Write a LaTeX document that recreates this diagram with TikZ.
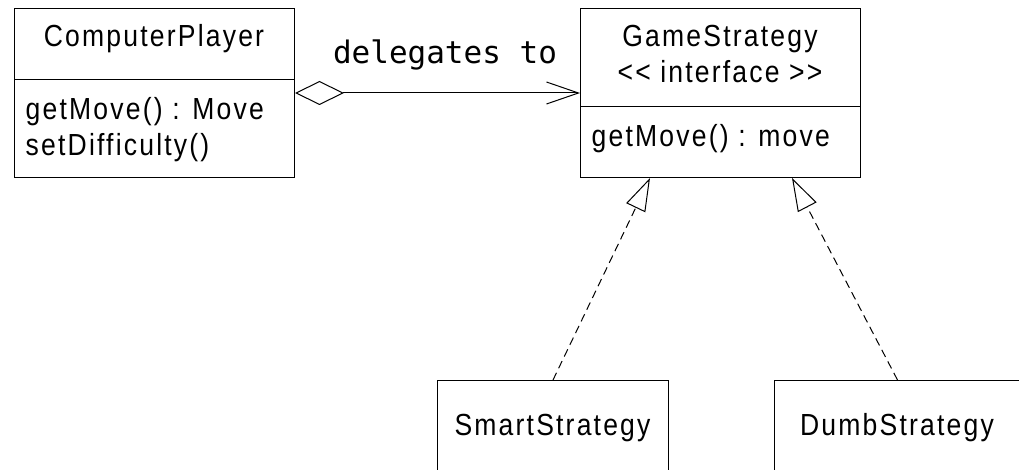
\documentclass[tikz,border=0pt]{standalone}
\usepackage{fontspec}
\setmainfont{Liberation Sans}[LetterSpace=7.2, FakeStretch=0.87]
\newfontfamily\codefont{DejaVu Sans Mono}
\usetikzlibrary{arrows.meta,calc}
\begin{document}
\begin{tikzpicture}[x=1pt,y=-1pt,
  umlbox/.style={draw=black, line width=1pt, inner sep=0pt, anchor=north west},
  umltext/.style={inner sep=0pt, font=\fontsize{30.5}{34}\selectfont},
  assoc/.style={line width=1pt,
    {Diamond[open,length=49pt,width=24pt]}-{Straight Barb[length=32pt,width=22pt]}},
  realize/.style={line width=1pt, dash pattern=on 8pt off 5pt,
    -{Triangle[open,length=33pt,width=21pt]}}]
\clip (0,0) rectangle (1019,470);
\fill[white] (0,0) rectangle (1019,470);

% class boxes: header and member compartments
\node[umlbox, minimum width=280pt, minimum height=71pt] (cpHead) at (14,8) {};
\node[umlbox, minimum width=280pt, minimum height=98pt] (cpBody) at (14,79) {};
\node[umlbox, minimum width=280pt, minimum height=98pt] (gsHead) at (580,8) {};
\node[umlbox, minimum width=280pt, minimum height=71pt] (gsBody) at (580,106) {};
\node[umlbox, minimum width=231pt, minimum height=120pt] (smart) at (437,380) {};
\node[umlbox, minimum width=246pt, minimum height=120pt] (dumb) at (774,380) {};

% class names and members
\node[umltext, anchor=base] (cpName) at (154,47) {ComputerPlayer};
\node[umltext, anchor=base west] (cpOp1) at (25.5,119.5) {getMove() : Move};
\node[umltext, anchor=base west] (cpOp2) at (25.5,155.5) {setDifficulty()};
\node[umltext, anchor=base] (gsName) at (720,47) {GameStrategy};
\node[umltext, anchor=base] (gsStereo) at (720,83) {{<}{<} interface {>}{>}};
\node[umltext, anchor=base west] (gsOp1) at (591.5,146.5) {getMove() : move};
\node[umltext, anchor=base] (smartName) at (552.5,435) {SmartStrategy};
\node[umltext, anchor=base] (dumbName) at (897,435) {DumbStrategy};

% association
\node[inner sep=0pt, anchor=base, font=\codefont\fontsize{31}{31}\selectfont] (deleg) at (445,63.3) {delegates to};
\draw[assoc] ($(cpBody.north east)+(0,14)$) -- ($(gsHead.north west)+(0,85)$);

% realizations
\draw[realize] (smart.north) -- ($(gsBody.south west)+(70,0)$);
\draw[realize] (dumb.north) -- ($(gsBody.south west)+(212,0)$);
\end{tikzpicture}
\end{document}
